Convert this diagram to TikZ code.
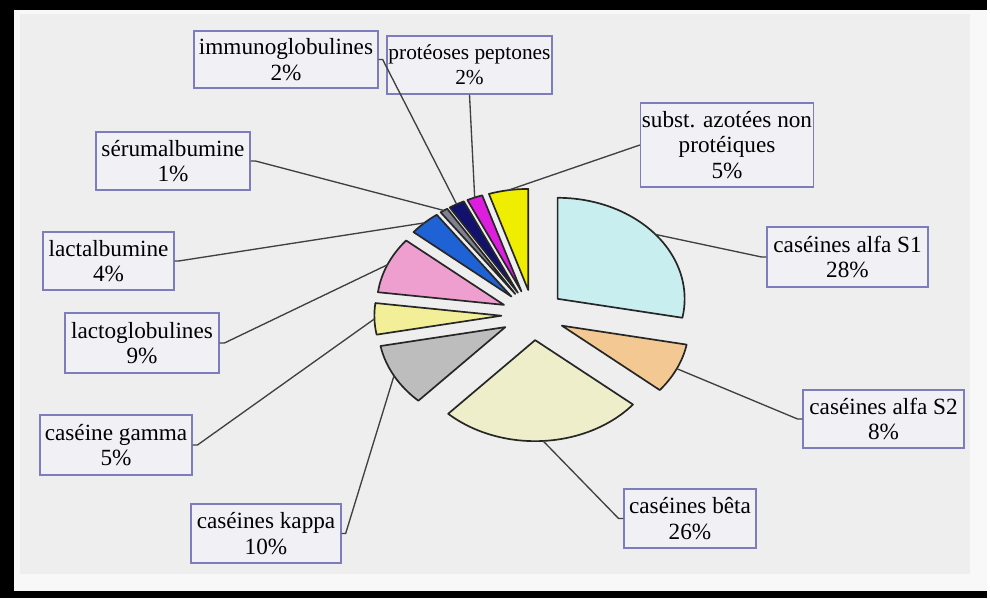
\documentclass[tikz,border=0pt]{standalone}
\usepackage{fontspec}
\setmainfont{Liberation Serif}
\usetikzlibrary{positioning}

\definecolor{panel}{HTML}{EEEEEE}
\definecolor{rim}{HTML}{F8F8F8}
\definecolor{boxline}{HTML}{7D7DBE}
\definecolor{boxfill}{HTML}{F1F1F5}
\definecolor{alfaone}{HTML}{C9EEF0}
\definecolor{alfatwo}{HTML}{F3C893}
\definecolor{beta}{HTML}{EEEECB}
\definecolor{kappa}{HTML}{BDBDBD}
\definecolor{gamma}{HTML}{F3EF98}
\definecolor{lglob}{HTML}{EF9FCF}
\definecolor{lalb}{HTML}{1F62D6}
\definecolor{serum}{HTML}{80808E}
\definecolor{immuno}{HTML}{12126E}
\definecolor{proteo}{HTML}{DE1EDE}
\definecolor{azote}{HTML}{F0EE00}

\begin{document}
\begin{tikzpicture}[x=0.025cm,y=0.025cm,
  etiq/.style={draw=boxline,fill=boxfill,line width=0.9pt,align=center,inner sep=1pt,
    font=\fontsize{16.5}{18}\selectfont},
  slice/.style={draw=black!85,line width=1.2pt,line join=round},
  leader/.style={draw=black!75,line width=0.95pt}]
% cadre
\fill[black] (0,0) rectangle (990,598);
\fill[rim] (14,7) rectangle (987,588);
\fill[panel] (20,24) rectangle (970,584);
\fill[white] (987,0) rectangle (990,598);

% secteurs (ellipse a=127, b=101, decalage 0.25)
\begin{scope}[shift={(13.325cm,7.075cm)},x=3.175cm,y=2.525cm]
\foreach \a/\b/\c/\n in {90/-10.8/alfaone/p-alfaone,-10.8/-39.6/alfatwo/p-alfatwo,
  -39.6/-133.2/beta/p-beta,-133.2/-169.2/kappa/p-kappa,-169.2/-187.2/gamma/p-gamma,
  -187.2/-219.6/lglob/p-lglob,-219.6/-234/lalb/p-lalb,-234/-237.6/serum/p-serum,
  -237.6/-244.8/immuno/p-immuno,-244.8/-252/proteo/p-proteo,-252/-270/azote/p-azote}{
  \pgfmathsetmacro\m{(\a+\b)/2}
  \filldraw[slice,fill=\c] (\m:0.25) -- ++(\a:1) arc[start angle=\a,end angle=\b,radius=1] -- cycle;
  \coordinate (\n) at (\m:1.25);
}
\end{scope}

% etiquettes
\node[etiq,minimum width=4.6cm,minimum height=1.425cm] (immuno) at (286,538.5) {immunoglobulines\\2\%};
\node[etiq,minimum width=4.075cm,minimum height=1.45cm,font=\fontsize{15.2}{18}\selectfont] (proteo) at (469.5,533) {protéoses peptones\\2\%};
\node[etiq,minimum width=3.85cm,minimum height=2.1cm] (azote) at (727,453) {subst. azotées non\\protéiques\\5\%};
\node[etiq,minimum width=3.85cm,minimum height=1.45cm] (serum) at (173,437) {sérumalbumine\\1\%};
\node[etiq,minimum width=3.275cm,minimum height=1.45cm] (lalb) at (108.5,337) {lactalbumine\\4\%};
\node[etiq,minimum width=3.85cm,minimum height=1.5cm] (lglob) at (142,255) {lactoglobulines\\9\%};
\node[etiq,minimum width=3.8cm,minimum height=1.5cm] (gamma) at (116,153) {caséine gamma\\5\%};
\node[etiq,minimum width=3.75cm,minimum height=1.475cm] (kappa) at (266,64.5) {caséines kappa\\10\%};
\node[etiq,minimum width=3.3cm,minimum height=1.475cm] (beta) at (690,79.5) {caséines bêta\\26\%};
\node[etiq,minimum width=4.025cm,minimum height=1.45cm] (alfatwo) at (883.5,179) {caséines alfa S2\\8\%};
\node[etiq,minimum width=4.025cm,minimum height=1.5cm] (alfaone) at (847.5,341) {caséines alfa S1\\28\%};

% traits de rappel
\draw[leader] (p-alfaone) -- ([xshift=-0.12cm]alfaone.west) -- (alfaone.west);
\draw[leader] (p-alfatwo) -- ([xshift=-0.12cm]alfatwo.west) -- (alfatwo.west);
\draw[leader] (p-beta) -- ([xshift=-0.12cm]beta.west) -- (beta.west);
\draw[leader] (p-azote) -- (azote.west);
\draw[leader] (p-proteo) -- (proteo.south);
\draw[leader] (p-immuno) -- ([xshift=0.1cm]immuno.east) -- (immuno.east);
\draw[leader] (p-serum) -- ([xshift=0.12cm]serum.east) -- (serum.east);
\draw[leader] (p-lalb) -- ([xshift=0.1cm]lalb.east) -- (lalb.east);
\draw[leader] (p-lglob) -- ([xshift=0.12cm]lglob.east) -- (lglob.east);
\draw[leader] (p-gamma) -- ([xshift=0.12cm]gamma.east) -- (gamma.east);
\draw[leader] (p-kappa) -- ([xshift=0.1cm]kappa.east) -- (kappa.east);
\end{tikzpicture}
\end{document}
